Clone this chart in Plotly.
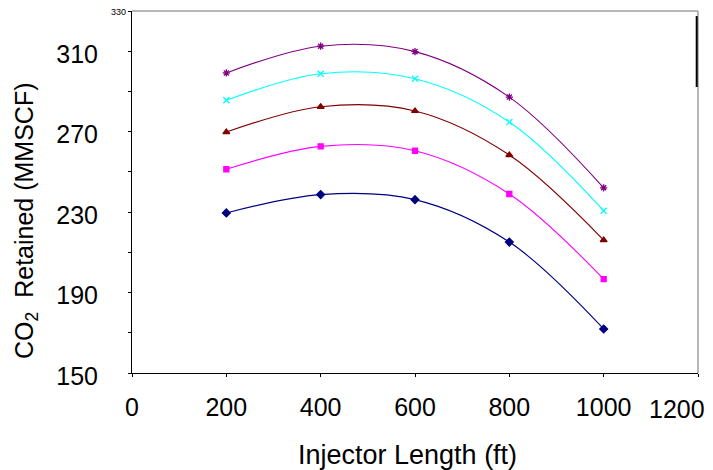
import plotly.graph_objects as go

lengths = [200, 400, 600, 800, 1000]
s1 = [229.6, 238.7, 236.2, 215.1, 171.9]
s2 = [251.3, 262.7, 260.5, 239.0, 196.7]
s3 = [269.8, 282.4, 280.3, 258.4, 216.1]
s4 = [285.6, 298.8, 296.3, 274.8, 230.7]
s5 = [299.2, 312.5, 309.8, 287.2, 242.1]

series = [
    (s1, "#000080", "diamond", 6),
    (s2, "#FF00FF", "square", 5),
    (s3, "#800000", "triangle-up", 6),
    (s4, "#00FFFF", "x-thin-open", 6),
    (s5, "#800080", "asterisk-open", 6),
]

y_tickvals = [150, 170, 190, 210, 230, 250, 270, 290, 310, 330]
y_ticktext = ["150", "", "190", "", "230", "", "270", "", "310", ""]
x_tickvals = [0, 200, 400, 600, 800, 1000, 1200]
x_ticktext = ["0", "200", "400", "600", "800", "1000", ""]
last_x_label = "1200"
top_label = "330"
x_title = "Injector Length (ft)"
y_title = "CO<sub>2</sub>  Retained (MMSCF)"

fig = go.Figure()
for ys, col, sym, sz in series:
    fig.add_trace(go.Scatter(
        x=lengths, y=ys, mode="lines+markers",
        line=dict(color=col, width=1.1, shape="spline", smoothing=1.0),
        marker=dict(symbol=sym, size=sz, color=col, line=dict(color=col, width=1.3)),
        showlegend=False,
    ))

# page body has an 8px default margin: size figure so plot area lands at reference pixels
fig.update_layout(
    width=705, height=462,
    margin=dict(l=124, r=15, t=3, b=97),
    paper_bgcolor="white", plot_bgcolor="white",
    font=dict(family="Liberation Sans, Arial, sans-serif", size=25, color="black"),
    xaxis=dict(
        range=[0, 1200], tickmode="array", tickvals=x_tickvals, ticktext=x_ticktext,
        showgrid=False, zeroline=False,
        showline=True, linecolor="black", linewidth=1,
        ticks="outside", ticklen=3, tickcolor="black",
        tickfont=dict(size=25), ticklabeloverflow="allow", automargin=False,
        ticklabelstandoff=9,
    ),
    yaxis=dict(
        range=[150, 330], tickmode="array", tickvals=y_tickvals, ticktext=y_ticktext,
        showgrid=False, zeroline=False,
        showline=True, linecolor="black", linewidth=1,
        ticks="outside", ticklen=3, tickcolor="black",
        tickfont=dict(size=25), ticklabeloverflow="allow", automargin=False,
        ticklabelstandoff=25, ticklabelshift=3,
    ),
    annotations=[
        dict(text=top_label, xref="paper", yref="y", x=0, y=330, xanchor="right",
             yanchor="middle", xshift=-4, yshift=-1, showarrow=False, font=dict(size=9)),
        dict(text=last_x_label, xref="x", yref="paper", x=1200, y=-0.0995,
             xanchor="right", yanchor="middle", xshift=9, showarrow=False,
             font=dict(size=25)),
        dict(text=x_title, xref="paper", yref="paper", x=0.486, y=-0.2265,
             xanchor="center", yanchor="middle", showarrow=False, font=dict(size=27)),
        dict(text=y_title, xref="paper", yref="paper", x=-0.1873, y=0.42,
             xanchor="center", yanchor="middle", textangle=-90, showarrow=False,
             font=dict(size=25)),
    ],
    shapes=[
        dict(type="line", xref="paper", yref="paper", x0=0, x1=1, y0=1, y1=1,
             line=dict(color="#A0A0A0", width=1.5)),
        dict(type="line", xref="paper", yref="paper", x0=1, x1=1, y0=0, y1=1,
             line=dict(color="#A0A0A0", width=1.5)),
        dict(type="line", xref="paper", yref="paper", x0=0.9977, x1=0.9977, y0=0.79, y1=0.986,
             line=dict(color="black", width=2)),
    ],
)

fig.write_html("out.html")
